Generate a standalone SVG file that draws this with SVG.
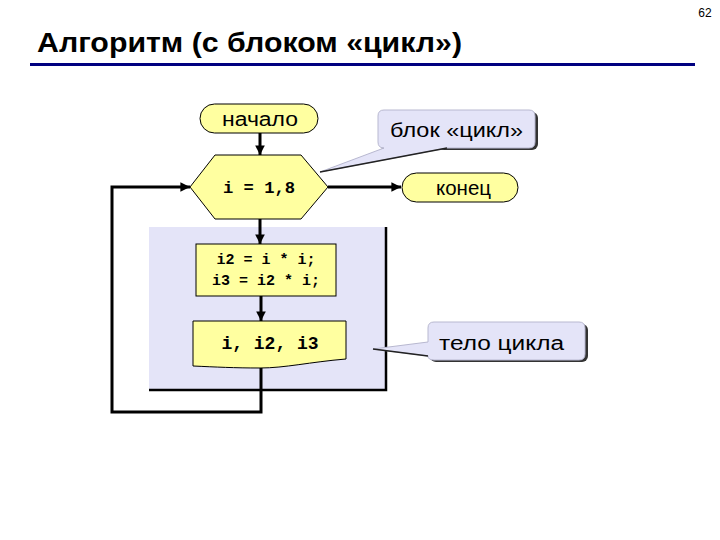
<svg xmlns="http://www.w3.org/2000/svg" width="720" height="540" viewBox="0 0 720 540">
<style>
.sans{font-family:"Liberation Sans",Arial,sans-serif;}
.mono{font-family:"Liberation Mono","Courier New",monospace;font-weight:bold;}
.blk{fill:#FFFFA0;stroke:#000;stroke-width:1;}
.cl{fill:#E4E4F8;stroke:#B8B8D0;stroke-width:1;}
.sh{fill:#333;}
.ln{fill:none;stroke:#000;stroke-width:3;}
</style>
<defs>
<marker id="ah" viewBox="0 0 10 10" refX="10" refY="5" markerWidth="3.2" markerHeight="3.2" orient="auto" markerUnits="strokeWidth">
<path d="M0,0 L10,5 L0,10 Z" fill="#000"/>
</marker>
</defs>
<rect width="720" height="540" fill="#fff"/>
<text class="sans" x="705" y="17" font-size="12" text-anchor="middle">62</text>
<text class="sans" x="37" y="52" font-size="27" font-weight="bold" textLength="425" lengthAdjust="spacingAndGlyphs">Алгоритм (с блоком «цикл»)</text>
<line x1="30" y1="64.5" x2="695" y2="64.5" stroke="#000080" stroke-width="3"/>

<g id="loop-body">
<rect x="149" y="227" width="238" height="164" fill="#E4E4F8"/>
<polyline points="386,227 386,390 149,390" fill="none" stroke="#000" stroke-width="2.5"/>
</g>

<g id="connectors">
<line class="ln" x1="260" y1="133" x2="260" y2="155" marker-end="url(#ah)"/>
<line class="ln" x1="328" y1="187" x2="401" y2="187" marker-end="url(#ah)"/>
<line class="ln" x1="260" y1="219" x2="260" y2="244" marker-end="url(#ah)"/>
<line class="ln" x1="261" y1="296" x2="261" y2="321" marker-end="url(#ah)"/>
<polyline class="ln" points="261,368 261,412 112,412 112,187 190,187" marker-end="url(#ah)"/>
</g>

<g id="start">
<rect class="blk" x="200" y="104" width="118" height="29" rx="14.5"/>
<text class="sans" x="222" y="126" font-size="20" textLength="76" lengthAdjust="spacingAndGlyphs">начало</text>
</g>

<g id="loop">
<polygon class="blk" points="215,155 301,155 328,187 301,219 215,219 190,187"/>
<text class="mono" x="223" y="193" font-size="16" textLength="72" lengthAdjust="spacingAndGlyphs" xml:space="preserve">i = 1,8</text>
</g>

<g id="end">
<rect class="blk" x="402" y="173" width="116" height="29" rx="14.5"/>
<text class="sans" x="436" y="195" font-size="20" textLength="55" lengthAdjust="spacingAndGlyphs">конец</text>
</g>

<g id="calc">
<rect class="blk" x="196" y="244" width="140" height="52"/>
<text class="mono" x="266" y="264" font-size="15" text-anchor="middle">i2 = i * i;</text>
<text class="mono" x="266" y="285" font-size="15" text-anchor="middle">i3 = i2 * i;</text>
</g>

<g id="output">
<path class="blk" d="M193,321 H346 V359 C310,362 285,368 260,368 C235,368 215,367 193,366 Z"/>
<text class="mono" x="270" y="349" font-size="18" text-anchor="middle">i, i2, i3</text>
</g>

<g id="callout-loop">
<rect class="sh" x="380" y="112" width="158" height="38" rx="6"/>
<path class="cl" d="M384,110 H529 Q535,110 535,116 V142 Q535,148 529,148 H447 L320,172 L384,148 Q378,148 378,142 V116 Q378,110 384,110 Z"/>
<line x1="320" y1="172" x2="447" y2="148" stroke="#222" stroke-width="1.5"/>
<text class="sans" x="390" y="137" font-size="20" textLength="133" lengthAdjust="spacingAndGlyphs">блок «цикл»</text>
</g>

<g id="callout-body">
<rect class="sh" x="430" y="324" width="158" height="38" rx="6"/>
<path class="cl" d="M434,322 H579 Q585,322 585,328 V354 Q585,360 579,360 H434 Q428,360 428,356 L373,349 L428,342 V328 Q428,322 434,322 Z"/>
<line x1="373" y1="349" x2="428" y2="356" stroke="#222" stroke-width="1.5"/>
<text class="sans" x="439" y="350" font-size="20" textLength="125" lengthAdjust="spacingAndGlyphs">тело цикла</text>
</g>
</svg>
